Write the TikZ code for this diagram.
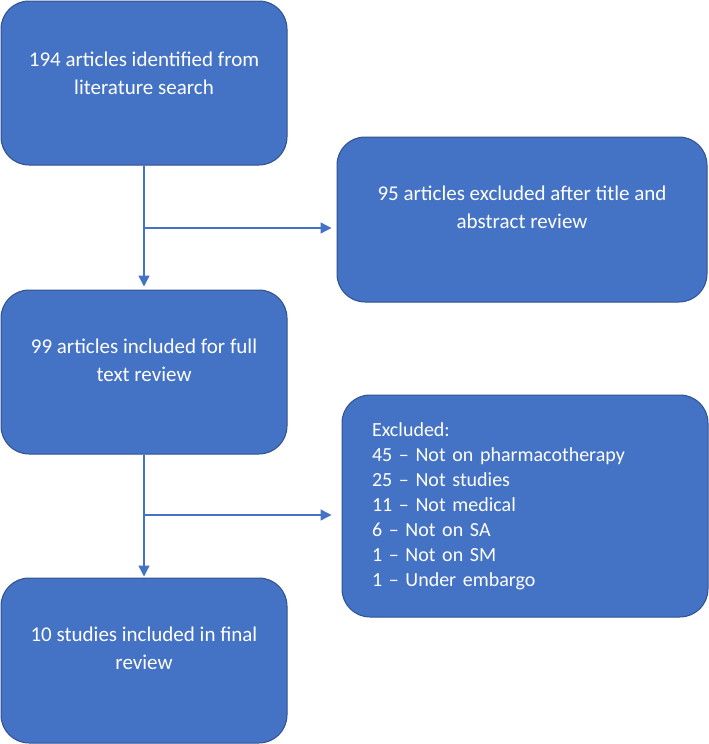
\documentclass[tikz,border=0pt]{standalone}
\usepackage{fontspec}
\setmainfont{Carlito}
\usetikzlibrary{arrows.meta,positioning}
\definecolor{boxblue}{HTML}{4472C4}
\definecolor{edgeblue}{HTML}{2F528F}
\tikzset{stage/.style={draw=edgeblue,fill=boxblue,rounded corners=28pt,line
width=1pt,minimum width=286pt,minimum height=164pt,inner sep=0pt},
stagetext/.style={text=white,align=center,font=\fontsize{21}{28}\selectfont},
flow/.style={draw=boxblue,line width=1.4pt,-{Triangle[length=11pt,width=11pt]}}}

\begin{document}
\begin{tikzpicture}[x=1pt,y=-1pt]
		\useasboundingbox (0,0) rectangle (709,744);
		\node[stage,label={[stagetext,yshift=10pt]center:{194 articles identified from\\literature search}}] (search) at (144,83) {};
		\node[stage,minimum width=370pt,minimum height=165pt,label={[stagetext,yshift=12pt]center:{95 articles excluded after title and\\abstract review}}] (abstract) at (522,219.5) {};
		\node[stage,label={[stagetext,yshift=12pt]center:{99 articles included for full\\text review}}] (fulltext) at (144,372) {};
		\node[stage,minimum width=366pt,minimum height=222pt,text=white,align=left,text width=306pt,inner xsep=30pt,font=\fontsize{20}{25}\selectfont] (reasons) at (525,506) {Excluded:\\45 -- Not on pharmacotherapy\\25 -- Not studies\\11 -- Not medical\\6 -- Not on SA\\1 -- Not on SM\\1 -- Under embargo};
		\node[stage,minimum height=165pt,label={[stagetext,yshift=12pt]center:{10 studies included in final\\review}}] (final) at (144,660.5) {};
		\coordinate (split1) at (144,228);
		\coordinate (split2) at (144,515);
		\draw[flow,shorten >=3pt] (search) -- (fulltext);
		\draw[flow,shorten >=5pt] (split1) -- (split1 -| abstract.west);
		\draw[flow,shorten >=1pt] (fulltext) -- (final);
		\draw[flow,shorten >=10pt] (split2) -- (split2 -| reasons.west);
	\end{tikzpicture}
\end{document}
